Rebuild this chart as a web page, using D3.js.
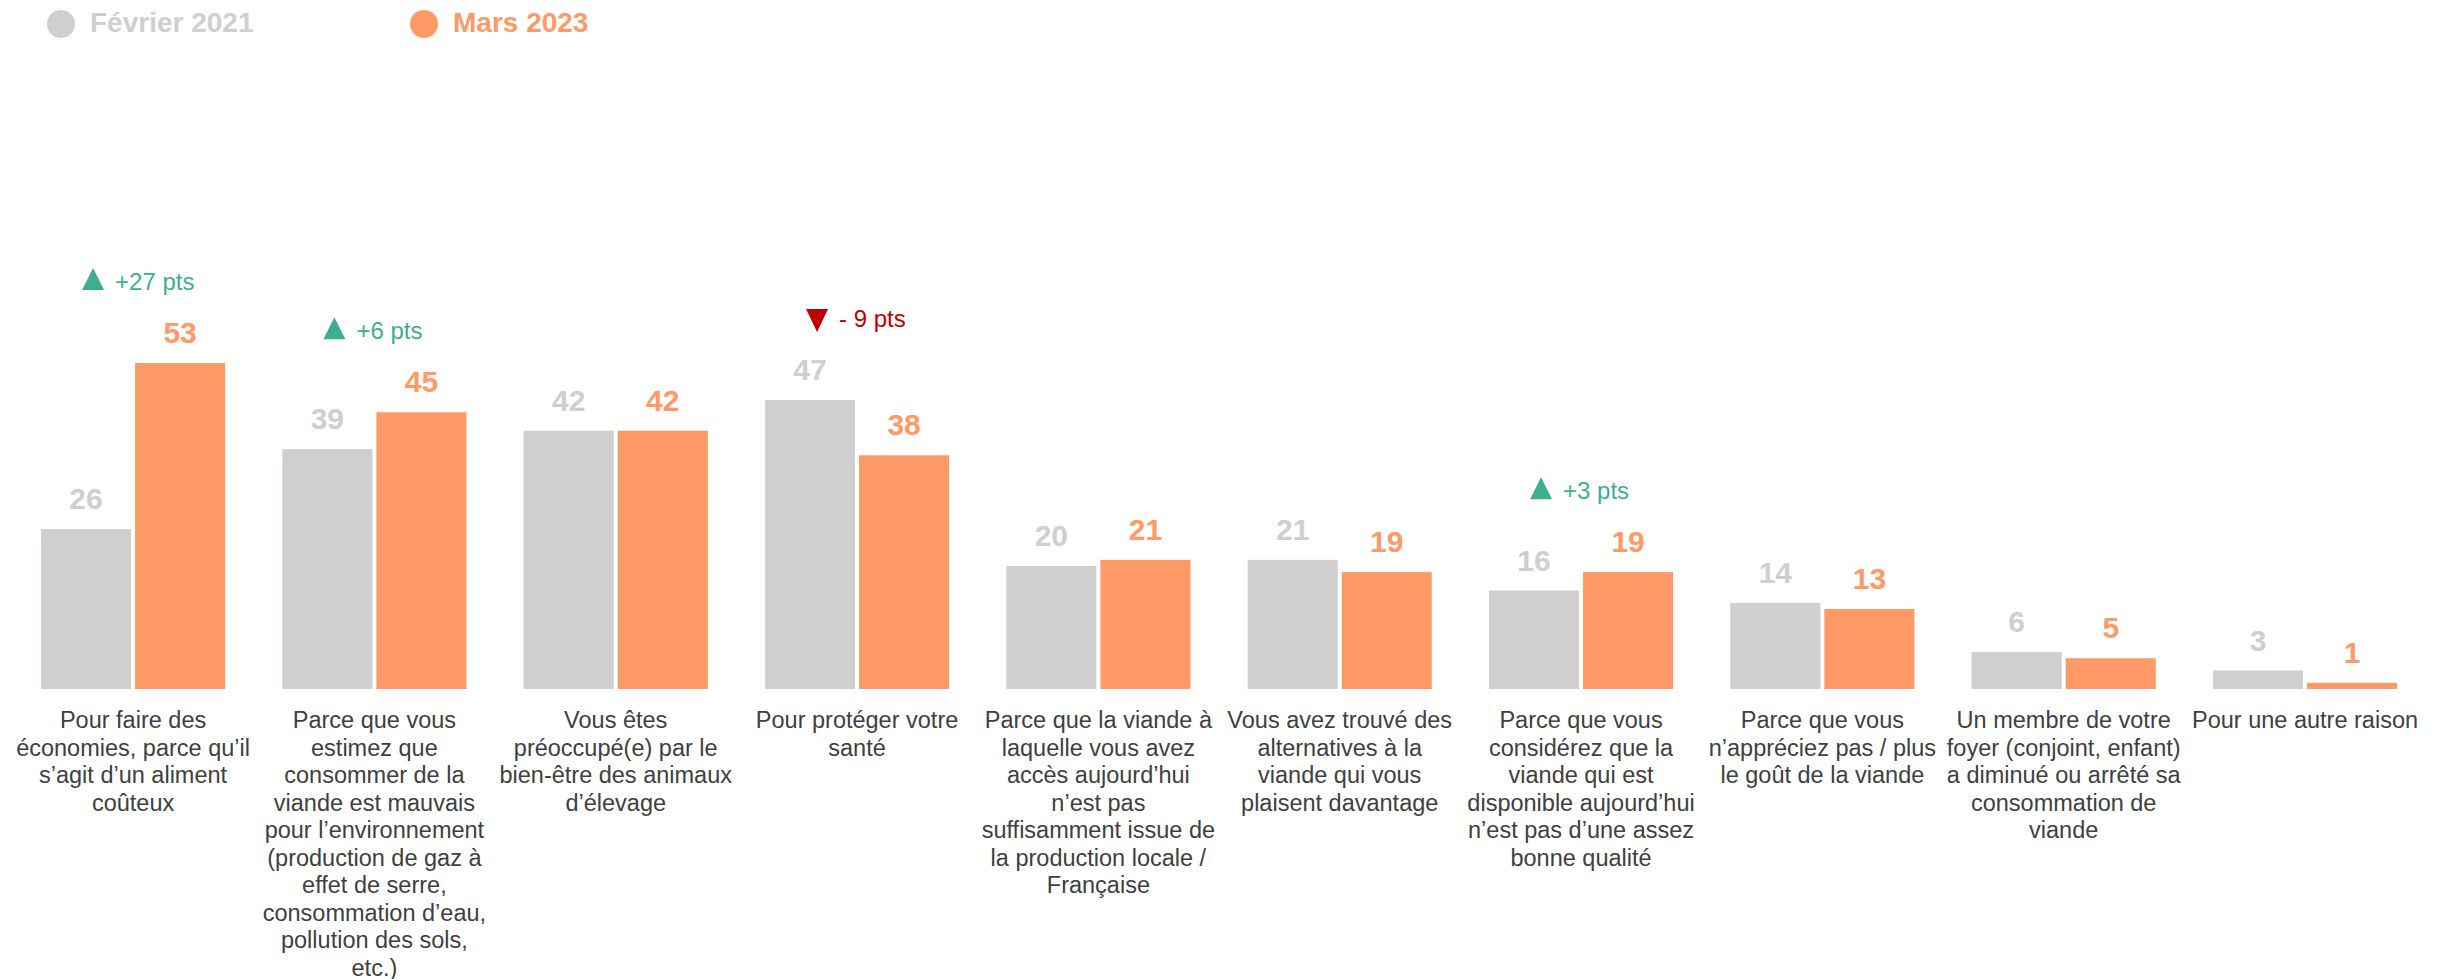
<!DOCTYPE html>
<html>
<head>
<meta charset="utf-8">
<script src="https://cdn.jsdelivr.net/npm/d3@7"></script>
<style>
  body { margin: 0; background: #fff; }
  svg { display: block; font-family: "Liberation Sans", Arial, sans-serif; }
</style>
</head>
<body>
<svg id="chart" width="2443" height="979"></svg>
<script>
// categories, one array of lines per label (wrapped as in the source)
const categories = [
  ['Pour faire des', 'économies, parce qu’il', 's’agit d’un aliment', 'coûteux'],
  ['Parce que vous', 'estimez que', 'consommer de la', 'viande est mauvais', 'pour l’environnement', '(production de gaz à', 'effet de serre,', 'consommation d’eau,', 'pollution des sols,', 'etc.)'],
  ['Vous êtes', 'préoccupé(e) par le', 'bien-être des animaux', 'd’élevage'],
  ['Pour protéger votre', 'santé'],
  ['Parce que la viande à', 'laquelle vous avez', 'accès aujourd’hui', 'n’est pas', 'suffisamment issue de', 'la production locale /', 'Française'],
  ['Vous avez trouvé des', 'alternatives à la', 'viande qui vous', 'plaisent davantage'],
  ['Parce que vous', 'considérez que la', 'viande qui est', 'disponible aujourd’hui', 'n’est pas d’une assez', 'bonne qualité'],
  ['Parce que vous', 'n’appréciez pas / plus', 'le goût de la viande'],
  ['Un membre de votre', 'foyer (conjoint, enfant)', 'a diminué ou arrêté sa', 'consommation de', 'viande'],
  ['Pour une autre raison']
];

const seriesNames = ['Février 2021', 'Mars 2023'];
const fev2021 = [26, 39, 42, 47, 20, 21, 16, 14, 6, 3];
const mars2023 = [53, 45, 42, 38, 21, 19, 19, 13, 5, 1];

// significant changes shown above some groups
const changeIndex = [0, 1, 3, 6];
const changeLabel = ['+27 pts', '+6 pts', '- 9 pts', '+3 pts'];
const changeUp = [true, true, false, true];

const colors = ['#D0CECE', '#FF9966'];
const textColors = ['#D0CECE', '#FF9966'];
const upColor = '#3DAE92';
const downColor = '#C00000';

const svg = d3.select('#chart');
const baseline = 689;

const x0 = d3.scaleBand()
  .domain(d3.range(categories.length))
  .range([12.4, 2425.7])
  .paddingInner(0.237)
  .paddingOuter(0.1185);

const x1 = d3.scaleBand()
  .domain([0, 1])
  .range([0, x0.bandwidth()])
  .paddingInner(0.0426);

const y = d3.scaleLinear().domain([0, 100]).range([baseline, baseline - 615]);

const rows = categories.map((c, i) => ({ i, values: [fev2021[i], mars2023[i]] }));

const groups = svg.append('g').selectAll('g')
  .data(rows)
  .enter()
  .append('g')
  .attr('transform', (d) => `translate(${x0(d.i)},0)`);

groups.selectAll('rect')
  .data((d) => d.values.map((v, s) => ({ v, s })))
  .enter()
  .append('rect')
  .attr('x', (d) => x1(d.s))
  .attr('y', (d) => y(d.v))
  .attr('width', x1.bandwidth())
  .attr('height', (d) => baseline - y(d.v))
  .attr('fill', (d) => colors[d.s]);

groups.selectAll('text.val')
  .data((d) => d.values.map((v, s) => ({ v, s })))
  .enter()
  .append('text')
  .attr('class', 'val')
  .attr('x', (d) => x1(d.s) + x1.bandwidth() / 2)
  .attr('y', (d) => y(d.v) - 20)
  .attr('text-anchor', 'middle')
  .attr('font-size', 30)
  .attr('font-weight', 'bold')
  .attr('fill', (d) => textColors[d.s])
  .text((d) => d.v);

// category labels
const labels = svg.append('g').selectAll('text')
  .data(categories)
  .enter()
  .append('text')
  .attr('text-anchor', 'middle')
  .attr('font-size', 23.5)
  .attr('fill', '#404040');

labels.selectAll('tspan')
  .data((d, i) => d.map((line) => ({ line, i })))
  .enter()
  .append('tspan')
  .attr('x', (d) => x0(d.i) + x0.bandwidth() / 2)
  .attr('y', (d, j) => 728 + j * 27.5)
  .text((d) => d.line);

// change annotations
changeIndex.forEach((idx, k) => {
  const cx = x0(idx) + x0.bandwidth() / 2;
  const top = y(Math.max(fev2021[idx], mars2023[idx])) - 20;
  const by = top - 53;
  const tx = cx - 40;
  const g = svg.append('g');
  if (changeUp[k]) {
    g.append('path')
      .attr('d', `M${tx - 11},${by} L${tx + 11},${by} L${tx},${by - 22} Z`)
      .attr('fill', upColor);
  } else {
    g.append('path')
      .attr('d', `M${tx - 11},${by - 18} L${tx + 11},${by - 18} L${tx},${by + 5} Z`)
      .attr('fill', downColor);
  }
  g.append('text')
    .attr('x', cx - 18)
    .attr('y', by)
    .attr('font-size', 24)
    .attr('fill', changeUp[k] ? upColor : downColor)
    .text(changeLabel[k]);
});

// legend
const legendX = [61, 424];
const legend = svg.append('g').selectAll('g')
  .data(seriesNames)
  .enter()
  .append('g');

legend.append('circle')
  .attr('cx', (d, i) => legendX[i])
  .attr('cy', 24)
  .attr('r', 14)
  .attr('fill', (d, i) => colors[i]);

legend.append('text')
  .attr('x', (d, i) => legendX[i] + 29)
  .attr('y', 32)
  .attr('font-size', 28)
  .attr('font-weight', 'bold')
  .attr('fill', (d, i) => textColors[i])
  .text((d) => d);
</script>
</body>
</html>
